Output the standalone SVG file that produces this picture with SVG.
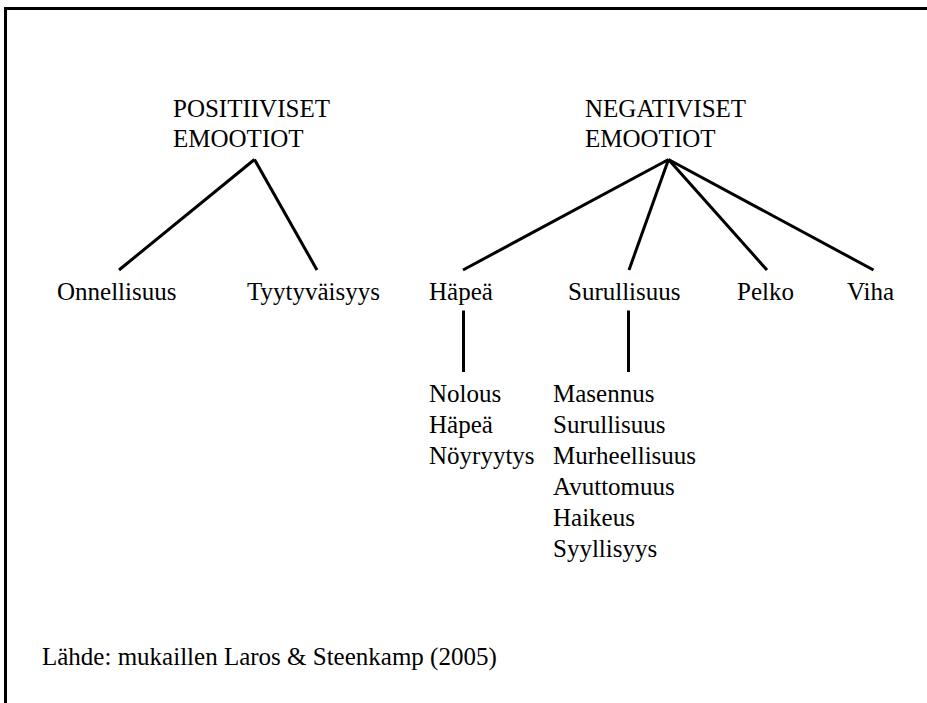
<svg xmlns="http://www.w3.org/2000/svg" width="927" height="703" viewBox="0 0 927 703">
<style>
text{font-family:"Liberation Serif","Times New Roman",serif;font-size:25px;fill:#000}
.ln{stroke:#000;stroke-width:3;fill:none;stroke-linecap:butt}
</style>
<rect width="927" height="703" fill="#fff"/>
<g id="frame">
<path class="ln" d="M5.5,703 V8.5 H927"/>
</g>
<g id="connectors">
<line class="ln" x1="254.5" y1="159.5" x2="119" y2="270"/>
<line class="ln" x1="254.5" y1="159.5" x2="317" y2="270"/>
<line class="ln" x1="668.5" y1="159.5" x2="463" y2="270"/>
<line class="ln" x1="668.5" y1="159.5" x2="629" y2="270"/>
<line class="ln" x1="668.5" y1="159.5" x2="767" y2="270"/>
<line class="ln" x1="668.5" y1="159.5" x2="873.5" y2="270"/>
<line class="ln" x1="463.5" y1="310.5" x2="463.5" y2="372"/>
<line class="ln" x1="628.5" y1="310.5" x2="628.5" y2="372"/>
</g>
<g id="positiiviset"><text x="173" y="117">POSITIIVISET</text><text x="173" y="147">EMOOTIOT</text></g>
<g id="negatiiviset"><text x="585" y="117">NEGATIVISET</text><text x="585" y="147">EMOOTIOT</text></g>
<g id="onnellisuus"><text x="57" y="300">Onnellisuus</text></g>
<g id="tyytyvaisyys"><text x="247" y="300">Tyytyväisyys</text></g>
<g id="hapea"><text x="429" y="300">Häpeä</text></g>
<g id="surullisuus"><text x="568" y="300">Surullisuus</text></g>
<g id="pelko"><text x="737" y="300">Pelko</text></g>
<g id="viha"><text x="847" y="300">Viha</text></g>
<g id="hapea-list">
<text x="429" y="402">Nolous</text>
<text x="429" y="433">Häpeä</text>
<text x="429" y="464">Nöyryytys</text>
</g>
<g id="surullisuus-list">
<text x="553" y="402">Masennus</text>
<text x="553" y="433">Surullisuus</text>
<text x="553" y="464">Murheellisuus</text>
<text x="553" y="495">Avuttomuus</text>
<text x="553" y="526">Haikeus</text>
<text x="553" y="557">Syyllisyys</text>
</g>
<g id="lahde"><text x="42" y="665">Lähde: mukaillen Laros &amp; Steenkamp (2005)</text></g>
</svg>
